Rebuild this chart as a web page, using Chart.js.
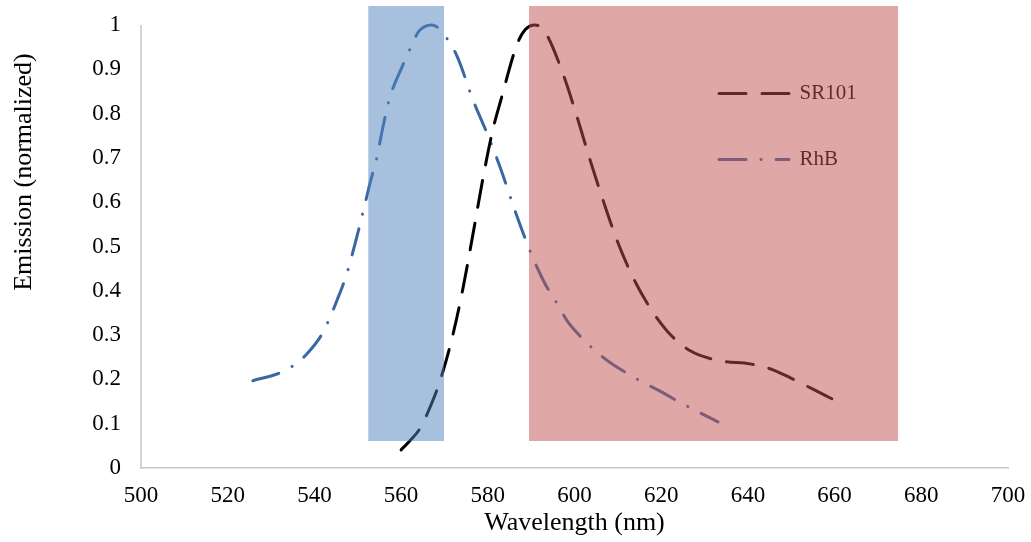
<!DOCTYPE html>
<html>
<head>
<meta charset="utf-8">
<script src="https://cdn.jsdelivr.net/npm/chart.js@4"></script>
<style>
  body { margin: 0; background: #fff; }
</style>
</head>
<body>
<canvas id="grafica" width="1031" height="542"></canvas>
<script>
// SR101 emission
const wlSR101 = [560.0, 562.2, 564.4, 566.8, 569.0, 572.0, 574.3, 576.6, 579.0, 581.2, 583.0, 586.7, 588.6, 590.9, 593.2, 597.3, 600.6, 603.6, 606.6, 609.8, 613.5, 617.4, 621.3, 626.6, 633.6, 640.5, 645.1, 649.7, 655.0, 659.4];
const emSR101 = [0.041, 0.063, 0.09, 0.14, 0.197, 0.303, 0.407, 0.529, 0.66, 0.765, 0.83, 0.955, 0.989, 1.0, 0.984, 0.891, 0.792, 0.695, 0.604, 0.514, 0.43, 0.362, 0.31, 0.265, 0.242, 0.235, 0.224, 0.204, 0.178, 0.156];

// RhB emission
const wlRhB = [525.8, 532.1, 535.1, 538.3, 541.8, 543.6, 545.2, 547.5, 549.4, 551.7, 552.8, 554.4, 555.8, 557.4, 558.6, 560.2, 562.5, 564.1, 567.1, 571.3, 573.1, 576.6, 579.8, 582.8, 586.3, 589.7, 593.2, 596.0, 598.3, 600.8, 604.3, 608.2, 611.6, 615.1, 620.4, 623.6, 627.3, 633.1];
const emRhB = [0.197, 0.215, 0.231, 0.258, 0.303, 0.34, 0.378, 0.439, 0.507, 0.597, 0.642, 0.701, 0.769, 0.837, 0.869, 0.905, 0.955, 0.986, 1.0, 0.959, 0.925, 0.83, 0.756, 0.68, 0.58, 0.491, 0.416, 0.371, 0.332, 0.303, 0.269, 0.238, 0.217, 0.197, 0.17, 0.152, 0.133, 0.104];

// filter bands (wavelength range) and their vertical extent
const bandBlue = [552.4, 569.9];
const bandRed = [589.5, 674.7];
const bandBottom = 0.061;
const bandTop = 1.043;

const serif = "'Liberation Serif', 'Times New Roman', serif";

function puntos(xs, ys) {
  return xs.map((x, i) => ({ x: x, y: ys[i] }));
}

// top edge of a band, filled down to bandBottom
function banda(rango, color) {
  return {
    label: '',
    data: [{ x: rango[0], y: bandTop }, { x: rango[1], y: bandTop }],
    borderWidth: 0,
    pointRadius: 0,
    backgroundColor: color,
    fill: { value: bandBottom },
    order: 1
  };
}

// y axis line only from 0 to 1
const lineaEjeY = {
  id: 'lineaEjeY',
  beforeDatasetsDraw(chart) {
    const y = chart.scales.y;
    const ctx = chart.ctx;
    const x0 = chart.chartArea.left;
    ctx.save();
    ctx.strokeStyle = '#c6c6c6';
    ctx.lineWidth = 1.5;
    ctx.beginPath();
    ctx.moveTo(x0, y.getPixelForValue(1));
    ctx.lineTo(x0, y.getPixelForValue(0) + 0.75);
    ctx.stroke();
    ctx.restore();
  }
};

// y title sits a bit higher than the middle of the axis
const tituloY = {
  id: 'tituloY',
  afterDraw(chart) {
    const ctx = chart.ctx;
    ctx.save();
    ctx.translate(24, 172);
    ctx.rotate(-Math.PI / 2);
    ctx.font = '26px ' + serif;
    ctx.fillStyle = '#000';
    ctx.textAlign = 'center';
    ctx.textBaseline = 'middle';
    ctx.fillText('Emission (normalized)', 0, 0);
    ctx.restore();
  }
};

// legend sits inside the plot, under the red band
const moverLeyenda = {
  id: 'moverLeyenda',
  beforeDraw(chart) {
    const leg = chart.legend;
    leg.left = 674;
    leg.top = 38;
    leg.right = 1000;
    leg.bottom = 400;
    leg.width = leg.right - leg.left;
    leg.height = leg.bottom - leg.top;
  }
};

const ctx = document.getElementById('grafica').getContext('2d');
new Chart(ctx, {
  type: 'line',
  data: {
    datasets: [
      {
        label: 'SR101',
        data: puntos(wlSR101, emSR101),
        borderColor: '#000000',
        borderWidth: 3,
        borderDash: [27, 16],
        borderCapStyle: 'round',
        pointRadius: 0,
        cubicInterpolationMode: 'monotone',
        fill: false,
        order: 2
      },
      {
        label: 'RhB',
        data: puntos(wlRhB, emRhB),
        borderColor: '#3a68a3',
        borderWidth: 3,
        borderDash: [27, 15, 0.1, 15],
        borderCapStyle: 'round',
        pointRadius: 0,
        cubicInterpolationMode: 'monotone',
        fill: false,
        order: 2
      },
      banda(bandBlue, 'rgba(79, 129, 189, 0.5)'),
      banda(bandRed, 'rgba(192, 80, 77, 0.5)')
    ]
  },
  options: {
    responsive: false,
    animation: false,
    events: [],
    layout: { padding: { top: 5, right: 23, left: 0, bottom: 0 } },
    scales: {
      x: {
        type: 'linear',
        min: 500,
        max: 700,
        ticks: { stepSize: 20, padding: 14, maxRotation: 0, color: '#000', font: { family: serif, size: 23 } },
        grid: { display: false, drawTicks: false },
        border: { color: '#c6c6c6', width: 1.5 },
        title: { display: true, text: 'Wavelength (nm)', color: '#000', font: { family: serif, size: 26 }, padding: { top: 0, bottom: 3 } },
        afterFit: function (s) {
          s.height = 74;
          s.paddingLeft = 0;
          s.paddingRight = 0;
        }
      },
      y: {
        type: 'linear',
        min: 0,
        max: 1.045,
        ticks: {
          stepSize: 0.1,
          includeBounds: false,
          padding: 20,
          color: '#000',
          font: { family: serif, size: 23 },
          callback: function (v) { return v > 1.001 ? '' : String(+v.toFixed(1)); }
        },
        grid: { display: false, drawTicks: false },
        border: { display: false },
        afterFit: function (s) {
          s.width = 141;
          s.paddingTop = 0;
          s.paddingBottom = 0;
        }
      }
    },
    plugins: {
      tooltip: { enabled: false },
      legend: {
        position: 'chartArea',
        align: 'start',
        labels: {
          usePointStyle: true,
          pointStyle: 'line',
          pointStyleWidth: 70,
          padding: 45,
          color: '#000',
          font: { family: serif, size: 21 },
          filter: function (item) { return item.text !== ''; },
          generateLabels: function (chart) {
            const items = Chart.defaults.plugins.legend.labels.generateLabels(chart);
            items.forEach(function (it) {
              const ds = chart.data.datasets[it.datasetIndex];
              it.lineDash = ds.borderDash;
              it.lineCap = ds.borderCapStyle;
              it.strokeStyle = ds.borderColor;
              it.lineWidth = ds.borderWidth;
            });
            return items;
          }
        }
      }
    }
  },
  plugins: [lineaEjeY, tituloY, moverLeyenda]
});
</script>
</body>
</html>
